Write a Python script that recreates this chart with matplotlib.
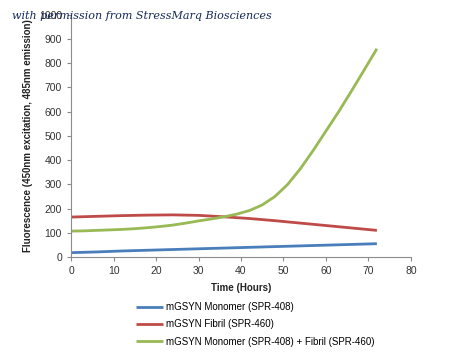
import matplotlib
matplotlib.use("Agg")
import matplotlib.pyplot as plt

hours = [0, 6, 12, 18, 24, 30, 36, 42, 48, 54, 60, 66, 72]
monomer = [18, 21, 25, 28, 31, 34, 37, 40, 43, 46, 49, 52, 55]
fibril = [165, 168, 171, 173, 174, 172, 166, 159, 150, 140, 130, 120, 110]
mixed_hours = list(range(0, 73, 3))
mixed = [107, 108, 110, 112, 114, 117, 121, 126, 132, 140, 149, 157, 166,
         177, 192, 215, 250, 300, 365, 440, 520, 600, 685, 772, 860]
labels = ["mGSYN Monomer (SPR-408)", "mGSYN Fibril (SPR-460)",
          "mGSYN Monomer (SPR-408) + Fibril (SPR-460)"]
colors = ["#4A7EBB", "#BE4B48", "#98B954"]
xticks = list(range(0, 81, 10))
yticks = list(range(0, 1001, 100))

plt.rcParams['font.family'] = ['Liberation Sans', 'DejaVu Sans']
fig = plt.figure(figsize=(4.5, 3.62), dpi=100)
ax = fig.add_axes([0.158, 0.290, 0.755, 0.669])
series = [(hours, monomer), (hours, fibril), (mixed_hours, mixed)]
for (x, y), c, l in zip(series, colors, labels):
    ax.plot(x, y, color=c, lw=2.0, label=l, solid_capstyle='butt')
ax.set_xlim(0, 80)
ax.set_ylim(0, 1000)
ax.set_xticks(xticks)
ax.set_yticks(yticks)
for s in ['top', 'right']:
    ax.spines[s].set_visible(False)
for s in ['left', 'bottom']:
    ax.spines[s].set_color('#8c8c8c')
    ax.spines[s].set_linewidth(0.8)
ax.tick_params(colors='#8c8c8c', labelcolor='#333333', labelsize=7.5, length=3, width=0.8)
ax.set_xlabel("Time (Hours)", fontsize=7, fontweight='bold', color='#222222', labelpad=5)
ax.set_ylabel("Fluorescence (450nm excitation, 485nm emission)", fontsize=7,
              fontweight='bold', color='#222222', labelpad=4)
ax.legend(loc='upper left', bbox_to_anchor=(0.165, -0.15), frameon=False, fontsize=7,
          handlelength=2.8, handletextpad=0.25, labelspacing=0.75)
fig.text(0.026, 0.955, "with permission from StressMarq Biosciences", fontsize=8,
         fontstyle='italic', family='DejaVu Serif', color='#15285a', va='center')
fig.savefig("out.png", dpi=100)
